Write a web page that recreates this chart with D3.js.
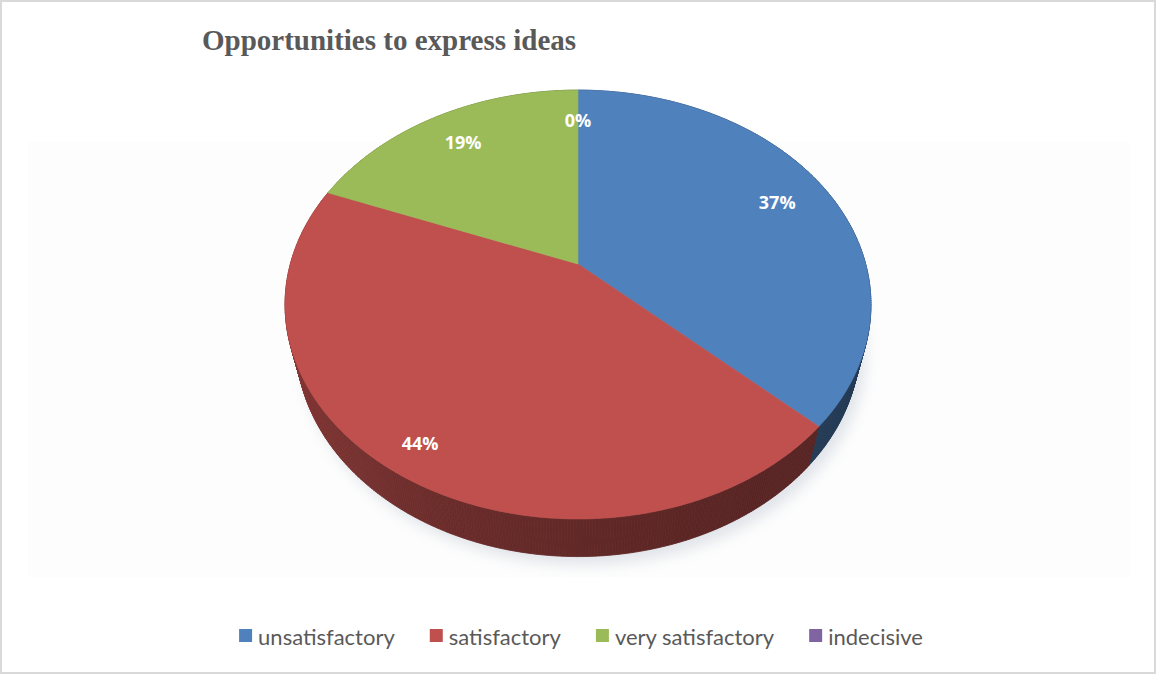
<!DOCTYPE html>
<html>
<head>
<meta charset="utf-8">
<script src="https://cdn.jsdelivr.net/npm/d3@7/dist/d3.min.js"></script>
<style>
  html, body { margin: 0; padding: 0; background: #fff; }
  svg { display: block; }
</style>
</head>
<body>
<svg id="chart" width="1157" height="675"></svg>
<script>
// ---- data ----
const title = "Opportunities to express ideas";
const categories = ["unsatisfactory", "satisfactory", "very satisfactory", "indecisive"];
const shares = [37, 44, 19, 0];
const colors = ["#4f81bd", "#c0504d", "#9bbb59", "#8064a2"];

// ---- layout ----
const W = 1157, H = 675;
const svg = d3.select("#chart");

// 3D view of the pie: tilted disc seen in perspective
const view = { cx: 578, cy: 264, f: 1097, fx: 0.982, dist: 3.745, tilt: 44.9 * Math.PI / 180, depth: 0.2 };
const sT = Math.sin(view.tilt), cT = Math.cos(view.tilt);
const radius = d3.scaleLinear().domain([0, 1]).range([0, 1]);

// project a point of the disc (u to the right, v toward the viewer, y downward)
function project(u, v, y) {
  const z = view.dist - v * cT + y * sT;
  return [view.cx + view.f * view.fx * u / z, view.cy + view.f * (v * sT + y * cT) / z];
}
function rim(angle, r, y) {
  const rr = radius(r);
  return project(rr * Math.sin(angle), -rr * Math.cos(angle), y);
}

const defs = svg.append("defs");
const blur = defs.append("filter").attr("id", "soft").attr("x", "-20%").attr("y", "-20%")
  .attr("width", "140%").attr("height", "140%");
blur.append("feGaussianBlur").attr("stdDeviation", 7);

// frame
svg.append("rect").attr("x", 1).attr("y", 1).attr("width", W - 3).attr("height", H - 3)
  .attr("fill", "#fff").attr("stroke", "#d9d9d9").attr("stroke-width", 2);
svg.append("rect").attr("x", 28).attr("y", 142).attr("width", 1102).attr("height", 435)
  .attr("fill", "#fdfdfd");

// title
svg.append("text").attr("x", 202).attr("y", 50)
  .attr("font-family", "'Liberation Serif', 'Times New Roman', serif")
  .attr("font-weight", "bold").attr("font-size", 29).attr("fill", "#595959")
  .text(title);

const pie = d3.pie().sort(null).value(d => d).startAngle(0).endAngle(2 * Math.PI);
const arcs = pie(shares);
const line = d3.line();
const STEP = Math.PI / 360;

function sampleAngles(a0, a1) {
  const n = Math.max(1, Math.ceil((a1 - a0) / STEP));
  return d3.range(n + 1).map(i => a0 + (a1 - a0) * i / n);
}

const g = svg.append("g");

// soft shadow under the disc
const shadowPts = sampleAngles(0, 2 * Math.PI).map(a => rim(a, 1.0, view.depth));
g.append("path")
  .attr("d", line(shadowPts) + "Z")
  .attr("transform", "translate(6,8)")
  .attr("fill", "#6d7f99").attr("opacity", 0.2)
  .attr("filter", "url(#soft)");

// side wall: thin segments drawn far-to-near, shaded by facing direction
const sides = [];
arcs.forEach((a, i) => {
  if (a.endAngle - a.startAngle <= 0) return;
  const angs = sampleAngles(a.startAngle, a.endAngle);
  for (let k = 0; k < angs.length - 1; k++) {
    const a0 = angs[k], a1 = angs[k + 1], am = (a0 + a1) / 2;
    sides.push({ i, a0, a1, near: -Math.cos(am), facing: Math.sin(am) });
  }
});
sides.sort((p, q) => p.near - q.near);
const sideColor = d => {
  const k = 1.45 + 0.6 * d.facing + 0.45 * Math.max(0, d.near);
  return d3.color(colors[d.i]).darker(k).formatHex();
};
g.selectAll("path.side").data(sides).join("path")
  .attr("class", "side")
  .attr("d", d => line([rim(d.a0, 1, 0), rim(d.a1, 1, 0), rim(d.a1, 1, view.depth), rim(d.a0, 1, view.depth)]) + "Z")
  .attr("fill", sideColor)
  .attr("stroke", sideColor)
  .attr("stroke-width", 0.8);

// top faces
g.selectAll("path.top").data(arcs.filter(a => a.endAngle > a.startAngle)).join("path")
  .attr("class", "top")
  .attr("d", a => {
    const pts = [project(0, 0, 0)].concat(sampleAngles(a.startAngle, a.endAngle).map(t => rim(t, 1, 0)));
    return line(pts) + "Z";
  })
  .attr("fill", a => colors[a.index])
  .attr("stroke", a => colors[a.index])
  .attr("stroke-width", 0.6);

// data labels
const labelR = [0.8, 0.88, 0.8, 0.8];
g.selectAll("text.lbl").data(arcs).join("text")
  .attr("class", "lbl")
  .each(function (a) {
    const mid = (a.startAngle + a.endAngle) / 2;
    const p = rim(mid, labelR[a.index], 0);
    d3.select(this).attr("x", p[0]).attr("y", p[1]);
  })
  .attr("text-anchor", "middle").attr("dominant-baseline", "central")
  .attr("font-family", "'Open Sans', 'Liberation Sans', sans-serif")
  .attr("font-weight", "bold").attr("font-size", 18).attr("fill", "#fff")
  .text(a => d3.format(".0f")(a.data) + "%");

// legend
const legend = svg.append("g").attr("transform", "translate(0,636)");
const items = legend.selectAll("g").data(categories).join("g");
items.append("rect").attr("width", 13).attr("height", 13).attr("y", -7)
  .attr("fill", (d, i) => colors[i]);
items.append("text").attr("x", 19).attr("dominant-baseline", "central")
  .attr("font-family", "Lato, 'Open Sans', sans-serif").attr("font-size", 22)
  .attr("fill", "#595959").text(d => d);
const widths = [];
items.each(function () { widths.push(13 + 6 + this.querySelector("text").getComputedTextLength()); });
const gap = 35;
const total = d3.sum(widths) + gap * (widths.length - 1);
let x0 = 581 - total / 2;
items.attr("transform", (d, i) => {
  const t = `translate(${x0},0)`;
  x0 += widths[i] + gap;
  return t;
});
</script>
</body>
</html>
